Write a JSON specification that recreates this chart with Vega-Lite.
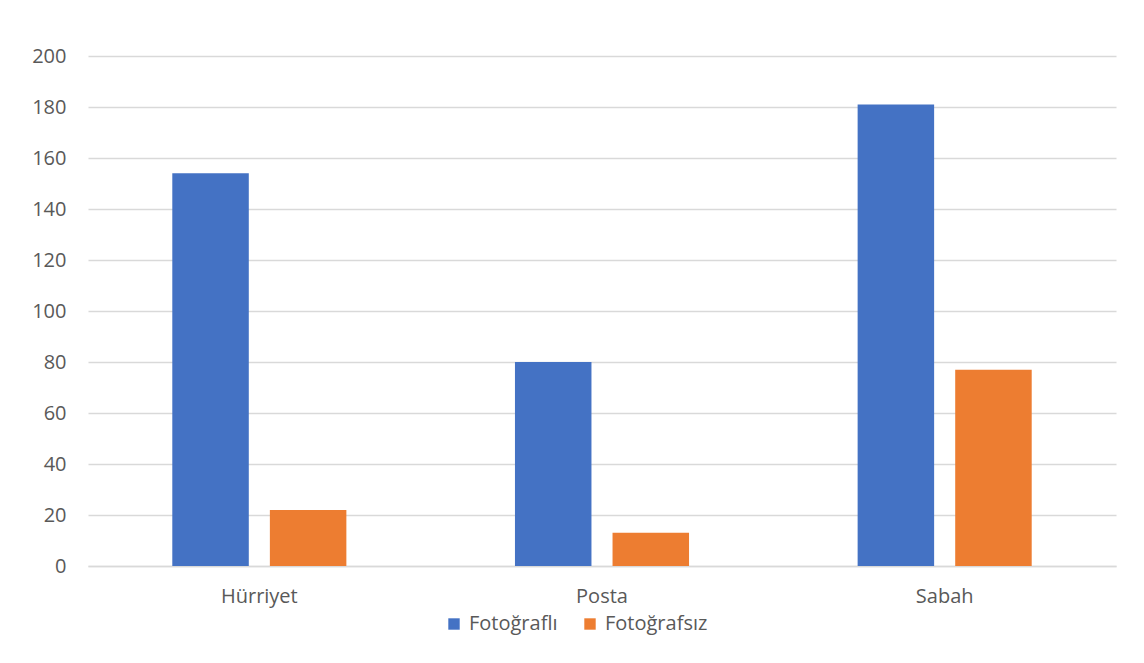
{
  "$schema": "https://vega.github.io/schema/vega-lite/v6.json",
  "autosize": {"type": "none"},
  "width": 1028,
  "height": 510,
  "padding": {"left": 88, "top": 56, "right": 28, "bottom": 97},
  "background": "white",
  "data": {
    "values": [
      {"gazete": "Hürriyet", "tur": "Fotoğraflı", "deger": 154},
      {"gazete": "Hürriyet", "tur": "Fotoğrafsız", "deger": 22},
      {"gazete": "Posta", "tur": "Fotoğraflı", "deger": 80},
      {"gazete": "Posta", "tur": "Fotoğrafsız", "deger": 13},
      {"gazete": "Sabah", "tur": "Fotoğraflı", "deger": 181},
      {"gazete": "Sabah", "tur": "Fotoğrafsız", "deger": 77}
    ]
  },
  "mark": {"type": "bar"},
  "encoding": {
    "x": {
      "field": "gazete",
      "type": "nominal",
      "sort": ["Hürriyet", "Posta", "Sabah"],
      "scale": {"paddingInner": 0.492, "paddingOuter": 0.246},
      "axis": {"title": null, "labelAngle": 0, "ticks": false, "labelPadding": 20, "domainColor": "#d9d9d9", "domainWidth": 1.5}
    },
    "xOffset": {
      "field": "tur",
      "type": "nominal",
      "sort": ["Fotoğraflı", "Fotoğrafsız"],
      "scale": {"paddingInner": 0.216, "paddingOuter": 0}
    },
    "y": {
      "field": "deger",
      "type": "quantitative",
      "scale": {"domain": [0, 200]},
      "axis": {"title": null, "values": [0,20,40,60,80,100,120,140,160,180,200], "domain": false, "ticks": false, "labelPadding": 22, "gridColor": "#d9d9d9", "gridWidth": 1.5}
    },
    "color": {
      "field": "tur",
      "type": "nominal",
      "sort": ["Fotoğraflı", "Fotoğrafsız"],
      "scale": {"domain": ["Fotoğraflı", "Fotoğrafsız"], "range": ["#4472c4", "#ed7d31"]},
      "legend": {"title": null, "orient": "none", "legendX": 356, "legendY": 558, "direction": "horizontal", "symbolType": "square", "symbolSize": 130, "symbolStrokeWidth": 0, "columnPadding": 22, "labelOffset": 5}
    }
  },
  "config": {
    "view": {"stroke": null},
    "font": "Open Sans",
    "axis": {"labelFont": "Open Sans", "labelFontSize": 20, "labelColor": "#595959"},
    "legend": {"labelFont": "Open Sans", "labelFontSize": 20, "labelColor": "#595959"}
  }
}
